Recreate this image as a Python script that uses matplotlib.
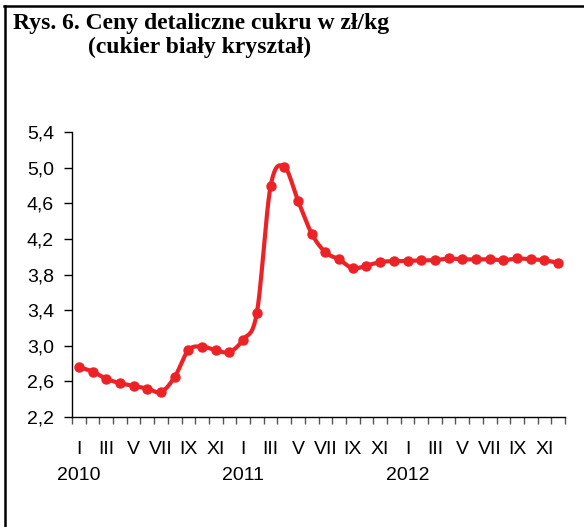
import numpy as np
import matplotlib
matplotlib.use("Agg")
import matplotlib.pyplot as plt
from matplotlib.lines import Line2D

# ---- data ----
years = ["2010", "2011", "2012"]
month_labels = ["I", "III", "V", "VII", "IX", "XI"] * 3
prices = [2.76, 2.71, 2.63, 2.58, 2.55, 2.52, 2.48, 2.65, 2.95, 2.99, 2.95, 2.93,
          3.07, 3.37, 4.79, 5.01, 4.63, 4.26, 4.05, 3.97, 3.87, 3.90, 3.94, 3.95,
          3.95, 3.96, 3.96, 3.98, 3.97, 3.97, 3.97, 3.96, 3.98, 3.97, 3.96, 3.93]
yticks = [2.2, 2.6, 3.0, 3.4, 3.8, 4.2, 4.6, 5.0, 5.4]

RED = "#ED2226"
FS = 14

def catmull_rom(x, y, n=20):
    x = np.asarray(x, float); y = np.asarray(y, float)
    px = np.concatenate([[x[0]], x, [x[-1]]])
    py = np.concatenate([[y[0]], y, [y[-1]]])
    xs, ys = [], []
    t = np.linspace(0, 1, n, endpoint=False)
    for i in range(1, len(px) - 2):
        p0x, p1x, p2x, p3x = px[i-1], px[i], px[i+1], px[i+2]
        p0y, p1y, p2y, p3y = py[i-1], py[i], py[i+1], py[i+2]
        c1x = p1x + (p2x - p0x) / 6; c1y = p1y + (p2y - p0y) / 6
        c2x = p2x - (p3x - p1x) / 6; c2y = p2y - (p3y - p1y) / 6
        bx = (1-t)**3*p1x + 3*(1-t)**2*t*c1x + 3*(1-t)*t**2*c2x + t**3*p2x
        by = (1-t)**3*p1y + 3*(1-t)**2*t*c1y + 3*(1-t)*t**2*c2y + t**3*p2y
        xs.append(bx); ys.append(by)
    xs.append([x[-1]]); ys.append([y[-1]])
    return np.concatenate(xs), np.concatenate(ys)

fig = plt.figure(figsize=(5.84, 5.27), dpi=100)
ax = fig.add_axes([72/584, 1-417/527, (565-72)/584, (417-132)/527])

n = len(prices)
xi = np.arange(n)
sx, sy = catmull_rom(xi, prices)
ax.plot(sx, sy, color=RED, lw=3.0, solid_capstyle="round", zorder=3)
ax.plot(xi, prices, "o", color=RED, ms=6.5, zorder=4)

ax.set_xlim(-0.5, n - 0.5)
ax.set_ylim(2.2, 5.4)
ax.set_yticks(yticks)
ax.set_yticklabels([f"{v:.1f}".replace(".", ",") for v in yticks],
                   fontsize=FS, family="Liberation Sans")
ax.set_xticks(np.arange(n + 1) - 0.5)
ax.set_xticklabels([])
ax.tick_params(axis="y", direction="out", length=6, width=1, pad=7)
ax.tick_params(axis="x", direction="out", length=5, width=1, color="#555555")
for s in ["top", "right"]:
    ax.spines[s].set_visible(False)
for s in ["left", "bottom"]:
    ax.spines[s].set_linewidth(1.0)

# month labels under every other month, years under January
for i, lab in enumerate(month_labels):
    ax.text(2 * i, -0.085, lab, transform=ax.get_xaxis_transform(), ha="center", va="top",
            fontsize=FS, family="Liberation Sans")
for j, yr in enumerate(years):
    ax.text(12 * j, -0.175, yr, transform=ax.get_xaxis_transform(), ha="center", va="top",
            fontsize=FS, family="Liberation Sans")

# title
fig.text(13/584, 1-29/527, "Rys. 6. Ceny detaliczne cukru w zł/kg", ha="left", va="baseline",
         fontsize=17, fontweight="bold", family="Liberation Serif")
fig.text(88/584, 1-53/527, "(cukier biały kryształ)", ha="left", va="baseline",
         fontsize=17, fontweight="bold", family="Liberation Serif")

# frame lines
fig.add_artist(Line2D([5/584, 5/584], [0, 1-6/527], color="black", lw=1.8,
                      transform=fig.transFigure))
fig.add_artist(Line2D([4/584, 1], [1-6/527, 1-6/527], color="black", lw=1.8,
                      transform=fig.transFigure))

fig.savefig("out.png", dpi=100)
